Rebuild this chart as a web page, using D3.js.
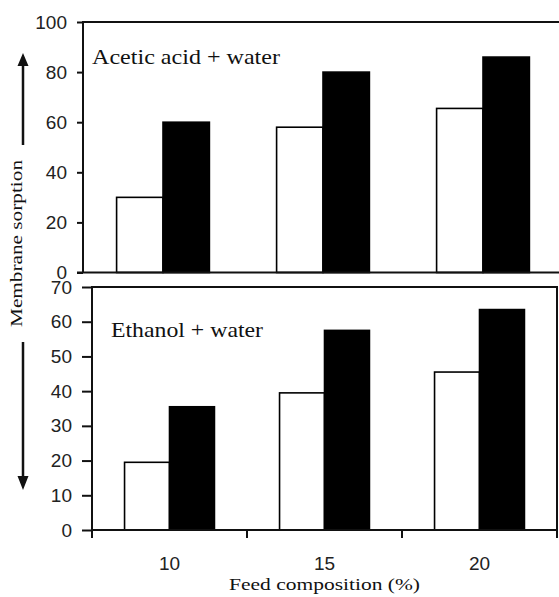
<!DOCTYPE html>
<html>
<head>
<meta charset="utf-8">
<script src="https://cdn.jsdelivr.net/npm/d3@7"></script>
<style>
  body { margin: 0; background: #fff; }
  svg { display: block; }
  .tick text { font-family: "Liberation Sans", Arial, sans-serif; font-size: 19px; fill: #222; }
  .serif { font-family: "Liberation Serif", "Times New Roman", serif; fill: #111; }
</style>
</head>
<body>
<svg id="chart" width="559" height="597"></svg>
<script>
// feed composition categories
var compositions = ["10", "15", "20"]
// acetic acid + water (white = first series, black = second series)
var aceticOpen = [30, 58, 65.5]
var aceticFilled = [60, 80, 86]
// ethanol + water
var ethanolOpen = [19.5, 39.5, 45.5]
var ethanolFilled = [35.5, 57.5, 63.5]
var topTicks = [0, 20, 40, 60, 80, 100]
var bottomTicks = [0, 10, 20, 30, 40, 50, 60, 70]

var svg = d3.select("#chart")
var ink = "#111"

function panel(opts) {
    var x = d3.scaleBand().domain(compositions).range(opts.xRange)
        .paddingInner(0.42).paddingOuter(0.21)
    var sub = d3.scaleBand().domain([0, 1]).range([0, x.bandwidth()])
    var y = d3.scaleLinear().domain(opts.yDomain).range(opts.yRange)
    var g = svg.append("g")

    var rows = compositions.map((c, i) => ({ c: c, vals: [opts.open[i], opts.filled[i]] }))
    g.selectAll("g.grp")
        .data(rows)
        .enter()
        .append("g")
        .attr("transform", d => "translate(" + x(d.c) + ",0)")
        .selectAll("rect")
        .data(d => d.vals)
        .enter()
        .append("rect")
        .attr("x", (d, i) => sub(i))
        .attr("width", sub.bandwidth())
        .attr("y", d => y(d))
        .attr("height", d => y(0) - y(d))
        .attr("fill", (d, i) => i == 0 ? "#fff" : "#000")
        .attr("stroke", "#000")
        .attr("stroke-width", 1.6)

    var ax = g.append("g")
        .attr("transform", "translate(" + opts.xRange[0] + ",0)")
        .call(d3.axisLeft(y).tickValues(opts.ticks).tickSize(opts.tickLen).tickPadding(opts.pad))
    ax.select(".domain").remove()
    ax.selectAll(".tick line").attr("stroke", ink).attr("stroke-width", 2)
    return { x: x, y: y, g: g }
}

// top panel: acetic acid
var p1 = panel({ xRange: [83, 563], yDomain: [0, 100], yRange: [272.5, 22],
    open: aceticOpen, filled: aceticFilled, ticks: topTicks, tickLen: 6, pad: 10 })
p1.g.append("path")
    .attr("d", "M83," + p1.y(0) + "V" + p1.y(100) + "H560M77," + p1.y(0) + "H560")
    .attr("fill", "none").attr("stroke", ink).attr("stroke-width", 2)
p1.g.append("text").attr("class", "serif")
    .attr("x", 92).attr("y", 64)
    .attr("font-size", 22).attr("textLength", 188).attr("lengthAdjust", "spacingAndGlyphs")
    .text("Acetic acid + water")

// bottom panel: ethanol
var p2 = panel({ xRange: [92, 557], yDomain: [0, 70], yRange: [530, 287],
    open: ethanolOpen, filled: ethanolFilled, ticks: bottomTicks, tickLen: 10, pad: 10 })
p2.g.append("rect")
    .attr("x", 92).attr("y", p2.y(70))
    .attr("width", 557 - 92).attr("height", p2.y(0) - p2.y(70))
    .attr("fill", "none").attr("stroke", ink).attr("stroke-width", 2)
var boundaries = [92].concat(compositions.map(c => p2.x(c) + p2.x.bandwidth() + p2.x.step() * 0.21))
p2.g.selectAll("line.xt")
    .data(boundaries)
    .enter()
    .append("line")
    .attr("x1", d => d).attr("x2", d => d)
    .attr("y1", p2.y(0)).attr("y2", p2.y(0) + 8)
    .attr("stroke", ink).attr("stroke-width", 2)
p2.g.selectAll("text.xl")
    .data(compositions)
    .enter()
    .append("text")
    .attr("x", d => p2.x(d) + p2.x.bandwidth() / 2)
    .attr("y", 570)
    .attr("text-anchor", "middle")
    .style("font-family", "'Liberation Sans', Arial, sans-serif")
    .style("font-size", "19px")
    .attr("fill", "#222")
    .text(d => d)
p2.g.append("text").attr("class", "serif")
    .attr("x", 111).attr("y", 337)
    .attr("font-size", 21).attr("textLength", 152).attr("lengthAdjust", "spacingAndGlyphs")
    .text("Ethanol + water")

// x title
svg.append("text").attr("class", "serif")
    .attr("x", 229).attr("y", 590)
    .attr("font-size", 17).attr("textLength", 191).attr("lengthAdjust", "spacingAndGlyphs")
    .text("Feed composition (%)")

// y title with arrows
svg.append("text").attr("class", "serif")
    .attr("transform", "translate(22,327) rotate(-90)")
    .attr("font-size", 17).attr("textLength", 167).attr("lengthAdjust", "spacingAndGlyphs")
    .text("Membrane sorption")
svg.append("path")
    .attr("d", "M23,145V64M23,342V477")
    .attr("stroke", ink).attr("stroke-width", 2.5)
svg.append("path")
    .attr("d", "M23,53L17.5,66H28.5Z M23,490L17.5,476H28.5Z")
    .attr("fill", ink)
</script>
</body>
</html>
